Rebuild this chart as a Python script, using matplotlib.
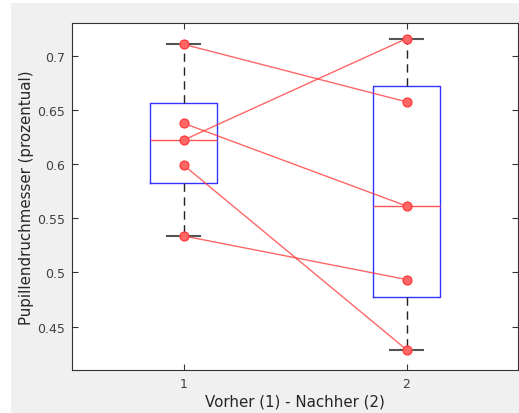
import numpy as np
import matplotlib
matplotlib.use("Agg")
import matplotlib.pyplot as plt
from matplotlib.patches import Rectangle
from matplotlib.ticker import FuncFormatter

# Pupil diameter per subject, before (1) and after (2)
vorher = [0.7105, 0.6221, 0.6377, 0.5991, 0.5337]
nachher = [0.6574, 0.7157, 0.5613, 0.4288, 0.4935]
groups = [1, 2]
xlabel = "Vorher (1) - Nachher (2)"
ylabel = "Pupillendruchmesser (prozentual)"
yticks = [0.45, 0.5, 0.55, 0.6, 0.65, 0.7]

fig = plt.figure(figsize=(5.19, 4.14), dpi=100)
fig.patch.set_facecolor("white")
fig.patches.append(Rectangle((11 / 519, 0), 1, 1 - 4 / 414, transform=fig.transFigure,
                             facecolor="#f0f0f0", edgecolor="none", zorder=-10))

ax = fig.add_axes([72 / 519, 1 - 370.7 / 414, (518 - 72) / 519, (370.7 - 23.7) / 414])
ax.set_facecolor("white")


def box_stats(values, label):
    v = np.asarray(values)
    q1, med, q3 = np.percentile(v, [25, 50, 75], method="hazen")
    iqr = q3 - q1
    lo = v[v >= q1 - 1.5 * iqr].min()
    hi = v[v <= q3 + 1.5 * iqr].max()
    return dict(med=med, q1=q1, q3=q3, whislo=lo, whishi=hi, fliers=[], label=label)


stats = [box_stats(vorher, "1"), box_stats(nachher, "2")]
ax.bxp(stats, positions=groups, widths=0.3, showfliers=False,
       boxprops=dict(color="#3333ff", linewidth=1.0),
       medianprops=dict(color="#ff5555", linewidth=1.0),
       whiskerprops=dict(color="#222222", linewidth=1.0, linestyle=(0, (6, 4))),
       capprops=dict(color="#555555", linewidth=1.5),
       manage_ticks=False, zorder=2)

# Paired lines between the two measurements
for a, b in zip(vorher, nachher):
    ax.plot(groups, [a, b], color="#ff3333", alpha=0.75, linewidth=1.0, zorder=3)

ax.plot([1] * len(vorher), vorher, "o", markersize=6.5, markerfacecolor="#ff6666",
        markeredgecolor="#ff3333", markeredgewidth=0.8, zorder=4)
ax.plot([2] * len(nachher), nachher, "o", markersize=6.5, markerfacecolor="#ff6666",
        markeredgecolor="#ff3333", markeredgewidth=0.8, zorder=4)

ax.set_xlim(0.5, 2.5)
ax.set_ylim(0.4103, 0.7304)
ax.set_xticks(groups)
ax.set_xticklabels([str(g) for g in groups])
ax.set_yticks(yticks)
ax.yaxis.set_major_formatter(FuncFormatter(lambda v, p: f"{v:g}"))

for s in ax.spines.values():
    s.set_color("#333333")
    s.set_linewidth(0.8)
ax.tick_params(direction="in", length=4, width=0.8, color="#333333",
               labelcolor="#404040", labelsize=9, top=True, right=True, pad=5)

ax.set_xlabel(xlabel, fontsize=10.8, color="#262626", labelpad=3)
ax.set_ylabel(ylabel, fontsize=10.8, color="#262626", labelpad=2)

fig.savefig("out.png", dpi=100, facecolor=fig.get_facecolor())
